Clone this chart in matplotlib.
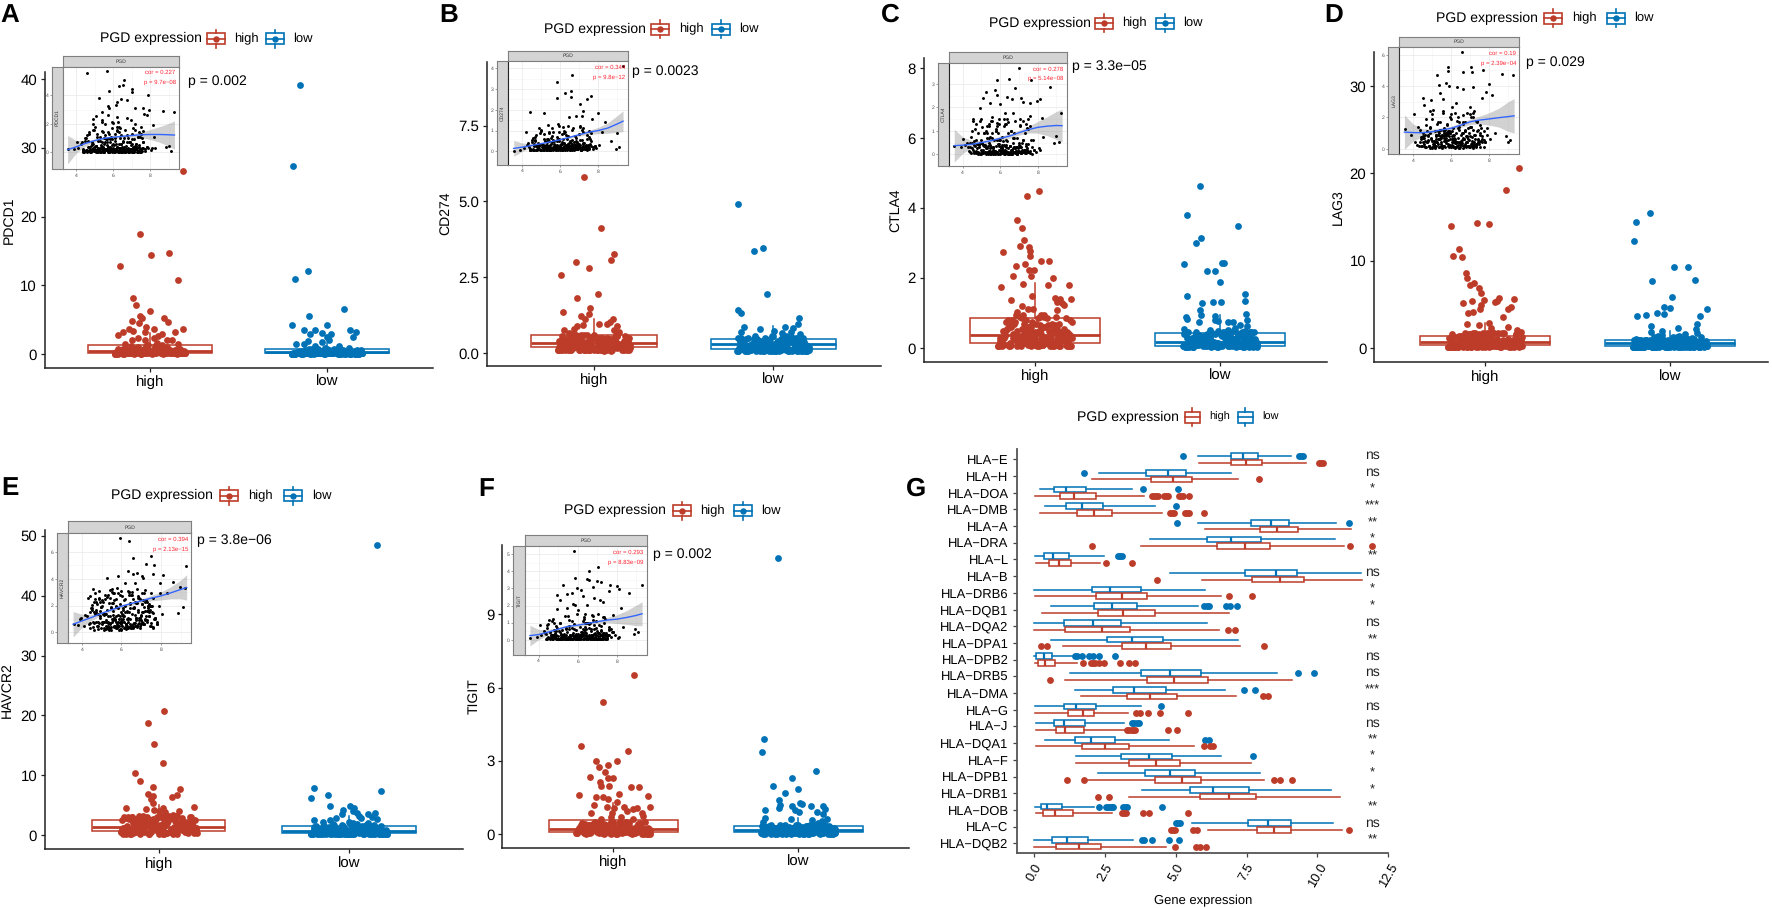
import matplotlib
matplotlib.use("Agg")
import matplotlib.pyplot as plt
from matplotlib.patches import Rectangle
from matplotlib.lines import Line2D

plt.rcParams['font.family'] = ['Liberation Sans', 'DejaVu Sans']
plt.rcParams['text.hinting'] = 'no_hinting'
plt.rcParams['text.hinting_factor'] = 1
W, H = 1772, 908
RED, BLUE = '#BC3C29', '#0072B5'

# ---------- shared jitter offsets for the dense lower band of each group
band_dx = [-.198,-.12,-.03,.06,.15,.196,-.17,-.08,.01,.09,.18,-.19,-.14,-.05,.03,.12,.17,-.16,-.1,-.01,.07,.14,.19,-.18,-.11,-.04,.04,.11,.16,-.15,-.07,.02,.08,.13,-.13,-.06,0,.05,.1,-.09,-.02,.135,-.185,.185,-.125,.165,-.075,.025,-.035,.075,-.145,.115,-.175,.055,-.095,.035,-.015,.095,.155,-.055,-.195,.195,-.115,.045,.125,-.065,.015,.085,.175,-.025,-.135,.105]
band_dx2 = [-.2,-.165,-.13,-.09,-.06,-.02,.02,.05,.09,.13,.16,.2,-.18,-.145,-.105,-.07,-.04,0,.035,.07,.11,.145,.18,-.19,-.155,-.12,-.085,-.045,-.01,.03,.065,.1,.14,.175,-.175,-.14,-.1,-.065,-.03,.01,.045,.08,.12,.155,.19,-.195,-.16,-.125,-.08,-.05,-.015,.025,.06,.095,.13,.17,.198,-.185,-.15,-.11,-.075,-.035,.005,.04,.085,.125,.165,-.17,-.135,-.095,-.055,-.025]

# ---------- panel A
a_high_dx = [.186,-.055,.11,.006,-.17,.16,-.094,-.08,0,-.055,-.043,.077,.1,-.1,-.064,.186,-.02,.02,-.12,-.154,-.094,-.18,.14,-.03,.07,.047,-.07,-.1,-.03,.02,.094,.126,-.14,.16,.04]
a_high_y = [26.6,17.4,14.75,14.4,12.8,10.8,8.2,7.2,6.2,5.5,5.2,5.3,4.6,4.85,4.5,3.7,3.9,3.6,3.7,3.2,3.35,2.7,3.2,3.25,2.9,2.6,2.4,2.0,2.0,2.3,2.0,2.1,1.4,1.45,1.55]
a_high_band = [.05,.3,.6,.1,.4,.1,.2,.9,.15,.5,.08,.3,.7,.05,1.1,.25,.12,.4,.1,1.3,.35,.6,.2,.05,.8,.2,.6,.1,.3,.1,1.0,.4,.15,.5,.2,.7,.1,.9,.3,.05,1.2,.15,.1,.35,.45,.2,.6,.1,.8,.05,.25,.55,.15,1.0,.4,.7,.12,.3,.05,.2,.1,.08,.5,.9,.2,.3,.6,.1,.4,.75,.15,.35]
a_low_dx = [-.154,-.192,-.107,-.183,.098,-.1,-.196,0,-.13,-.07,.13,.166,-.096,-.03,.023,.145,-.105,.013,0,-.03]
a_low_y = [39.2,27.4,12.1,10.9,6.6,5.5,4.2,4.15,3.45,3.5,3.5,3.25,2.95,3.0,2.85,2.5,1.95,2.0,2.5,1.8]
a_low_band = [.05,.1,.3,.05,.2,.1,.08,.4,.6,.1,.05,.15,.05,.3,.1,.5,.08,.1,.2,.9,.05,.25,.1,.05,.4,.1,.7,.2,.05,.2,1.2,.08,.3,.05,1.4,.15,.7,.1,.3,.12,.5,.05,.1,.2,.6,.05,.08,.35,.1,.8,.05,.2,.1,.4,.06,.6,.15,.05,.3,.1,.05,.1,.2,.45,.1,.9,.1,.25,.05,.3,.08,.15]

# ---------- panel B
b_high_dx = [-.056,.04,.11,.097,-.1,-.028,-.184,.02,-.095,-.022,-.173,-.03,-.07,-.048,.104,.09,.03,.07,-.097,-.063,.126,-.11,-.17,.11,.14,-.14]
b_high_y = [5.8,4.13,3.28,3.06,3.0,2.81,2.58,1.95,1.8,1.5,1.34,1.3,1.23,1.11,1.12,1.03,.97,.96,.9,.92,.9,.78,.77,.76,.7,.65]
b_high_band = [.1,.4,.1,.3,.2,.5,.2,.1,.45,.15,.3,.15,.55,.1,.35,.6,.2,.1,.3,.15,.5,.25,.4,.1,.2,.6,.1,.35,.15,.25,.45,.1,.3,.55,.4,.15,.6,.2,.35,.5,.1,.25,.3,.1,.2,.4,.15,.5,.3,.1,.45,.2,.35,.05,.55,.12,.25,.4,.3,.6,.2,.1,.15,.5,.35,.25,.1,.45,.2,.3,.1,.4]
b_low_dx = [-.197,-.058,-.108,-.033,-.195,-.182,.145,.136,-.165,.063,-.072,.11,.1,-.178,.006,.046,.15]
b_low_y = [4.9,3.46,3.37,1.94,1.41,1.31,1.17,.96,.87,.85,.79,.84,.7,.69,.74,.65,.63]
b_low_band = [.05,.3,.1,.45,.2,.1,.35,.15,.05,.4,.25,.1,.5,.08,.3,.12,.2,.05,.35,.55,.1,.25,.05,.15,.45,.3,.1,.5,.2,.05,.35,.1,.4,.15,.25,.05,.55,.3,.1,.2,.45,.08,.35,.05,.15,.5,.25,.1,.4,.2,.05,.3,.12,.55,.08,.35,.2,.45,.1,.25,.05,.15,.3,.1,.5,.2,.08,.4,.1,.3,.15,.05]

# ---------- panel C
c_high_dx = [.02,-.043,-.097,-.07,-.058,-.08,-.032,-.025,-.173,-.027,.032,.077,-.056,-.1,-.03,-.005,-.119,-.022,.097,-.065,.072,.186,-.186,-.014,.11,-.128,.135,.196,.12,.146,.157,-.068,-.036,-.012,.117,-.095]
c_high_y = [4.48,4.35,3.65,3.42,3.09,2.92,2.88,2.76,2.73,2.64,2.5,2.5,2.41,2.35,2.23,2.23,2.06,2.07,2.01,1.83,1.8,1.8,1.73,1.5,1.44,1.38,1.39,1.39,1.31,1.3,1.22,1.2,1.12,1.12,1.09,1.04]
c_high_band = [.05,.3,.6,.15,.4,.05,.5,.9,.05,.7,.2,.3,.05,.8,.25,.55,.1,.45,.95,.15,.65,.35,.05,.2,.75,.4,.1,.6,.3,.55,.85,.05,.2,.45,.1,.7,.3,.95,.5,.15,.6,.05,.25,.4,.8,.1,.35,.65,.2,.5,.1,.9,.3,.6,.05,.4,.75,.15,.55,.25,.05,.35,.7,.1,.45,.2,.85,.3,.05,.5,.15,.6]
c_low_dx = [-.108,-.18,.097,-.103,-.133,-.198,.01,.02,-.07,-.03,0,.135,-.18,.135,-.097,-.04,.002,-.11,.14,-.03,-.106,-.187,-.178,.144,-.117,-.03,-.01,.043,.07,.144,.106,.077,-.195,.043,-.056]
c_low_y = [4.63,3.81,3.5,3.14,2.99,2.41,2.44,2.42,2.21,2.21,1.9,1.55,1.48,1.34,1.3,1.31,1.31,1.09,.97,.92,.94,.88,.84,.8,.75,.8,.78,.73,.75,.64,.66,.56,.53,.51,.51]
c_low_band = [.05,.2,.4,.1,.3,.02,.15,.35,.05,.25,.45,.08,.3,.02,.2,.4,.1,.05,.25,.48,.15,.35,.05,.02,.3,.1,.2,.42,.08,.25,.05,.38,.15,.02,.45,.2,.1,.3,.05,.35,.15,.48,.02,.25,.08,.4,.12,.3,.05,.2,.02,.45,.1,.35,.05,.25,.15,.4,.02,.3,.08,.18,.38,.05,.28,.1,.45,.02,.22,.12,.35,.06]

# ---------- panel D
d_high_dx = [.186,.112,-.043,.02,-.184,-.14,-.173,-.126,-.104,-.095,-.058,-.08,-.03,-.023,.077,.155,-.004,.067,.056,-.068,-.119,-.02,.14,.126,-.027,-.065,-.09,.097,-.1,-.03,.02,.124,.03,.04,.175,.196,-.178]
d_high_y = [20.6,18.1,14.3,14.2,14.0,11.4,10.6,10.4,8.6,8.05,7.45,7.2,6.9,6.3,5.7,5.6,5.5,5.4,5.3,5.45,5.2,4.9,4.7,4.47,4.5,4.1,4.05,3.55,2.75,2.67,2.86,2.48,2.3,1.9,2.06,1.83,1.6]
d_high_band = [.2,.6,1.4,.3,.9,1.0,.15,.8,1.7,.4,.5,.25,1.2,.2,1.5,.7,1.1,.3,.9,1.8,.25,.6,.4,.2,1.3,.15,1.6,.5,.7,.3,1.1,1.75,.2,.8,.35,1.4,.15,1.7,.6,.9,.25,.5,.4,.2,.3,1.2,.1,.8,1.6,.45,.2,.7,.3,1.0,.15,1.5,1.3,.55,.25,1.7,.2,.4,.9,.6,.3,1.1,1.65,.2,.75,1.3,.4,.5]
d_low_dx = [-.108,-.182,-.196,.023,.097,.135,-.1,.013,-.03,.198,.002,-.068,-.13,-.178,-.034,.162,.144,-.104,.045,.139,-.045,-.103,.08,.144,-.045]
d_low_y = [15.46,14.47,12.3,9.27,9.27,7.86,7.67,5.84,4.73,4.5,4.66,4.08,3.82,3.66,3.9,3.74,2.82,2.6,2.33,2.18,1.98,1.83,1.68,1.8,1.53]
d_low_band = [.2,.5,1.0,.15,.7,.3,.9,.2,.4,1.1,.6,.25,.15,.8,.3,1.2,.4,.2,.7,1.0,.15,.5,.3,.1,.9,.25,1.3,.6,.2,.35,1.1,.15,.7,.4,.95,.2,.5,1.4,.25,.8,.15,.6,.3,.1,.45,1.0,.2,.75,.35,1.2,.15,.55,.25,.9,.1,.65,.3,1.1,.2,.4,.12,.85,.25,.5,.15,.7,1.3,.3,.6,.18,.95,.4]

# ---------- panel E
e_high_dx = [.03,-.054,-.026,.02,-.126,-.096,-.028,.112,-.054,-.03,.096,.072,-.042,-.03,.187,-.173,-.068,-.023,.02,.107,0,.033,.074,.168,-.103,.124,-.194,-.17]
e_high_y = [20.7,18.7,15.3,12.05,10.4,9.0,8.05,7.8,6.83,6.5,6.8,6.33,6.05,5.4,4.67,4.6,4.4,4.28,4.5,4.05,4.0,3.95,3.45,3.1,3.2,2.95,2.6,2.83]
e_high_band = [.5,1.5,2.8,.8,2.0,1.2,.2,2.4,3.2,1.0,1.6,.4,3.0,.3,2.2,1.4,.9,.6,2.6,3.1,1.1,1.8,.7,1.3,2.7,.5,3.2,2.0,1.0,.3,2.9,1.5,.6,2.3,1.2,3.1,.2,2.6,1.7,.8,2.1,1.4,.9,.4,2.5,1.1,3.0,.7,1.9,.3,2.8,1.3,.5,3.2,1.6,2.2,.9,.25,1.0,2.7,.6,1.2,1.8,.4,2.4,1.5,3.1,.8,2.0,1.1,.35,1.7]
e_low_dx = [.146,-.182,.166,-.108,-.198,-.1,.003,.025,-.03,.023,.042,.137,.1,.05,-.035,.12,-.068,.063,.145,-.184,-.1,-.137,0]
e_low_y = [48.4,7.9,7.45,6.67,6.2,4.95,4.83,4.55,4.28,4.0,3.67,3.7,3.5,3.2,3.55,3.1,2.9,2.83,2.67,2.55,2.55,2.17,2.3]
e_low_band = [.3,.9,1.5,.5,1.1,.7,.2,1.3,.6,1.7,.4,.25,1.0,.15,1.4,.8,.5,.3,1.2,.9,1.6,.4,.2,.6,1.0,.3,1.9,.7,.15,1.1,.5,2.0,1.3,.35,1.5,.8,.2,.6,1.2,.3,.9,.25,1.4,.45,.7,.15,1.1,.55,1.7,.3,.85,.2,1.3,.4,.65,1.6,.25,1.0,.5,.75,.2,.95,.35,1.2,.6,.15,1.45,.8,.3,1.05,.5,.25]

# ---------- panel F
f_high_dx = [.11,-.056,-.175,.077,.02,-.095,-.08,-.03,-.045,-.128,-.027,-.004,-.07,-.065,-.023,.097,.139,.032,-.184,-.095,-.056,.186,-.027,.02,-.103,-.036,.196,.056,.004,.104,.126,.072,.153,-.119,-.009,.04,.162,-.014,-.065,.108,.144]
f_high_y = [6.52,5.4,3.6,3.41,3.01,2.97,2.74,2.81,2.54,2.35,2.29,2.29,2.13,1.96,1.96,1.91,1.91,1.65,1.6,1.51,1.51,1.54,1.45,1.31,1.2,1.09,1.09,1.1,1.05,1.04,1.05,.93,.86,.87,.87,.71,.72,.71,.6,.63,.46]
f_high_band = [.05,.2,.35,.1,.3,.05,.12,.4,.05,.25,.08,.15,.3,.02,.45,.1,.2,.05,.35,.5,.1,.25,.02,.15,.4,.08,.3,.05,.2,.12,.45,.02,.28,.1,.38,.05,.48,.18,.08,.3,.05,.42,.15,.02,.25,.1,.35,.05,.2,.4,.12,.05,.3,.08,.18,.5,.02,.25,.1,.35,.05,.22,.15,.42,.08,.3,.02,.45,.12,.28,.05,.18]
f_low_dx = [-.11,-.184,-.198,.095,-.036,-.135,0,-.072,-.103,.01,.018,-.1,-.034,.067,.133,-.106,.142,-.182,-.018,.005,.1,.135,-.04,-.182,.074,.157,.13,-.19,.108]
f_low_y = [11.3,3.89,3.37,2.58,2.28,1.95,1.84,1.7,1.39,1.28,1.21,1.19,1.16,1.15,1.13,1.06,1.04,1.0,.98,.91,.89,.82,.6,.67,.59,.6,.55,.48,.44]
f_low_band = [.05,.15,.25,.02,.2,.08,.3,.05,.12,.35,.02,.2,.1,.28,.05,.15,.02,.32,.08,.22,.05,.38,.12,.02,.25,.1,.18,.05,.3,.02,.35,.15,.08,.25,.05,.2,.38,.02,.12,.3,.08,.05,.22,.15,.02,.32,.1,.25,.05,.18,.35,.02,.12,.28,.06,.2,.03,.3,.1,.15,.05,.25,.02,.33,.08,.18,.04,.28,.12,.05,.22,.1]

# box summaries: low whisker, q1, median, q3, high whisker
a_high_box = [0.02,.19,.4,1.26,3.0];  a_low_box = [0.02,.1,.35,.73,1.6]
b_high_box = [.03,.19,.32,.6,1.11];   b_low_box = [.02,.14,.29,.45,.9]
c_high_box = [.01,.13,.37,.85,1.85];  c_low_box = [.01,.07,.17,.42,.95]
d_high_box = [.05,.38,.7,1.45,2.86];  d_low_box = [.05,.3,.6,1.0,2.0]
e_high_box = [.1,.72,1.44,2.5,5.1];   e_low_box = [.05,.44,.78,1.6,3.3]
f_high_box = [.01,.08,.2,.56,1.26];   f_low_box = [.01,.07,.16,.31,.65]

# ---------- scatter insets (PGD on x)
inset_band_x = [3.9,4.1,4.25,4.4,4.5,4.55,4.62,4.7,4.72,4.8,4.85,4.9,4.95,5.0,5.02,5.08,5.12,5.15,5.2,5.22,5.28,5.3,5.35,5.38,5.42,5.45,5.5,5.52,5.55,5.6,5.62,5.65,5.7,5.72,5.75,5.8,5.82,5.85,5.9,5.92,5.95,6.0,6.02,6.05,6.1,6.12,6.15,6.2,6.22,6.25,6.3,6.32,6.35,6.4,6.42,6.45,6.5,6.52,6.55,6.6,6.62,6.65,6.7,6.72,6.75,6.8,6.82,6.85,6.9,6.92,6.95,7.0,7.02,7.05,7.1,7.12,7.15,7.2,7.25,7.3,7.35,7.4,7.45,7.5,7.55,7.6,7.7,7.8,7.9,8.05]
inset_band_x2 = [5.5,6.3,4.9,7.1,5.8,6.6,4.7,6.0,7.4,5.3,6.9,5.6,4.4,6.2,7.0,5.1,6.5,5.9,7.3,4.8,6.1,5.4,6.8,7.6,5.7,4.6,6.4,5.2,7.2,6.7,5.0,5.85,6.95,4.95,6.25,7.5,5.55,6.55,4.75,6.05,7.05,5.35,6.85,5.65,4.45,6.35,7.25,5.15,6.45,5.95,7.35,4.85,6.15,5.45,6.75,7.7,5.75,4.65,6.38,5.25,7.15,6.65,5.05,5.82,6.92,4.55,6.22,7.45,5.58,6.58,4.78,6.08,7.02,5.32,6.82,5.62,4.35,6.32,7.22,5.12,6.42,5.92,7.32,4.88,6.18,5.42,6.72,7.8,5.72,6.02]
inset_band_x3 = [6.1,5.2,7.0,4.6,6.6,5.6,7.3,5.0,6.3,5.8,4.3,6.9,5.4,7.5,6.0,4.8,6.5,5.3,7.2,5.9,4.5,6.7,5.5,6.2,7.4,5.1,6.4,5.7,4.9,6.8,7.1,5.95,6.28,5.48,7.08,4.68,6.68,5.68,7.38,5.08,6.38,5.88,4.38,6.98,5.48,7.58,6.08,4.88,6.58,5.38,7.28,5.98,4.58,6.78,5.58,6.28,7.48,5.18,6.48,5.78,4.98,6.88,7.18,6.03,6.33,5.53,7.13,4.73,6.73,5.73,7.43,5.13,6.43,5.83,4.43,7.03,5.43,7.63,6.13,4.83,6.63,5.33,7.33,5.93,4.63,6.83,5.63,6.23,7.53,5.23]
a_in_band = [.2,.3,.6,.05,1.0,.15,.4,.1,1.4,.05,.7,.25,.1,1.8,.2,.45,.05,1.1,.3,.1,.8,.2,.05,1.5,.35,.1,.6,.05,2.0,.25,.15,.9,.1,.4,.05,1.3,.2,.7,.1,.05,1.7,.3,.15,.5,.05,1.0,.2,.1,.35,2.1,.05,.6,.15,.25,1.2,.1,.05,.8,.3,.15,1.6,.05,.45,.2,.1,1.0,.3,.05,.7,.15,.25,1.3,.05,.4,.1,.9,.2,.3,.6,.15,.05,.5,1.1,.25,.1,.7,.2,.4,.3,.15]
b_in_band = [.05,.15,.3,.05,.55,.1,.25,.05,.8,.15,.4,.1,.05,1.0,.2,.3,.05,.6,.1,.2,.45,.05,.15,.9,.25,.05,.35,.1,1.1,.15,.05,.5,.2,.3,.08,.7,.1,.25,.05,.15,1.2,.2,.1,.35,.05,.6,.15,.25,.4,.95,.1,.3,.05,.2,.75,.1,.25,.5,.15,.05,1.05,.2,.35,.1,.25,.65,.15,.3,.45,.1,.2,.85,.15,.3,.1,.55,.2,.25,.4,.15,.3,.6,.2,.1,.35,.5,.2,.25,.15,.3]
c_in_band = [.3,.4,.5,.1,1.0,.2,.05,.6,1.3,.1,.3,.02,.5,1.5,.15,.05,.35,.9,.1,.02,.25,.7,.05,1.2,.15,.4,.02,.1,1.4,.25,.05,.6,.15,.02,.35,1.1,.1,.05,.45,.2,1.5,.02,.3,.1,.75,.05,.2,.4,.02,1.3,.15,.05,.55,.25,.9,.02,.1,.35,.05,1.0,.2,.02,.5,.1,.3,1.4,.05,.15,.7,.02,.25,.4,.1,1.2,.05,.3,.15,.6,.1,.9,.05,.35,.2,.45,.1,.15,.3,.2,.1,.25]
d_in_band = [.9,.4,1.4,.2,1.0,.7,.1,1.9,.4,.9,.2,1.3,.6,.1,2.2,.5,.3,1.1,.15,.8,.4,1.7,.1,.6,1.2,.3,.05,.9,2.4,.2,.5,1.0,.1,.7,.35,1.5,.15,.55,1.1,.25,2.0,.1,.45,.8,.2,1.3,.6,.05,.35,1.0,1.8,.15,.7,.4,1.2,.1,.5,.9,.25,1.6,.05,.65,.3,1.1,.15,.8,2.3,.4,.2,1.0,.55,.1,1.4,.3,.75,.15,1.2,.45,.9,.2,1.7,.6,.3,1.0,.5,.8,1.1,.4,.9,.6]
e_in_band = [1.0,.5,1.2,.7,1.8,.4,2.3,.8,1.5,.5,2.6,1.1,.3,2.0,.6,1.4,.35,2.8,.9,.25,1.7,.7,2.2,.4,1.2,.2,3.0,.8,1.6,.5,2.4,1.0,.3,1.9,.6,2.9,1.3,.45,2.1,.75,1.5,.2,2.7,.9,1.8,.35,1.2,2.5,.6,.25,1.6,3.1,.8,.4,2.2,1.0,.5,1.4,2.8,.3,1.9,.7,2.3,.45,1.1,3.2,.6,1.7,.9,2.5,.5,1.3,2.1,.8,1.5,2.9,.6,1.0,2.4,.75,1.8,1.2,2.0,.7,1.5,2.6,1.1,.6,2.0,1.4]
f_in_band = [.15,.3,.5,.05,.9,.1,.3,.02,1.2,.15,.4,.05,.7,.2,.02,1.0,.1,.35,.05,.55,.15,.02,1.4,.25,.05,.45,.1,.02,.8,.3,.05,.2,1.1,.02,.4,.1,.6,.05,.25,.02,1.5,.15,.35,.05,.1,.75,.02,.3,.2,.05,1.3,.1,.45,.02,.25,.6,.05,.15,.95,.3,.02,.1,.5,.2,.05,1.15,.35,.02,.15,.7,.25,.05,.4,.1,.85,.2,.05,.55,.3,.15,1.0,.1,.4,.2,.3,.65,.15,.45,.25,.1]

a_in_x = [4.58,5.65,6.59,6.55,6.34,7.0,7.0,5.8,7.85,5.24,6.43,6.19,6.77,6.16,5.74,7.18,7.6,7.94,8.66,9.25,5.42,5.78,7.67,7.81,5.1,5.74,6.22,6.73,6.95,4.9,5.38,6.01,6.34,8.14,4.94,5.47,5.74,6.19,4.58,4.07,8.98,8.84,9.1,3.59,8.21,7.63,8.08,8.26]
a_in_y = [5.56,5.68,5.05,4.74,4.63,4.44,4.25,4.32,4.02,3.81,3.71,3.53,3.64,3.32,3.25,3.08,3.13,2.99,2.92,2.8,2.85,3.08,2.66,2.62,2.52,2.62,2.5,2.38,2.27,2.31,2.27,2.03,1.75,1.94,1.57,1.45,1.4,1.57,1.21,.7,.47,.4,.12,.2,1.1,.75,.28,.33]
b_in_x = [9.28,6.61,5.84,6.25,6.58,5.82,6.58,7.61,7.4,7.04,4.4,5.16,7.2,7.98,6.82,7.14,6.47,7.68,8.35,4.19,9.0,8.67,9.1,8.91,5.9,5.37,6.16,6.68,7.04,7.21,5.63,4.93,4.67,8.18,7.82,3.56]
b_in_y = [4.12,3.67,3.36,2.83,2.91,2.59,2.6,2.67,2.51,2.28,1.91,1.83,1.96,1.86,1.7,1.7,1.64,1.54,1.43,.93,.87,.51,.23,.11,1.32,1.27,1.19,1.11,1.19,.95,.95,.87,.55,.95,.23,.02]
c_in_x = [7.02,5.81,6.45,7.62,8.64,6.79,5.24,5.74,5.81,5.1,6.34,6.61,7.1,8.12,7.94,5.46,4.92,5.99,7.23,7.59,4.57,5.55,6.26,6.7,7.59,8.21,9.26,5.01,5.81,6.43,7.06,7.41,8.3,9.0,8.88,9.13,8.12,3.54,4.04,4.48,7.77,7.23]
c_in_y = [3.68,3.16,3.2,3.17,2.86,2.83,2.65,2.75,2.53,2.39,2.43,2.35,2.39,2.35,2.28,2.18,1.99,2.15,2.25,2.2,1.49,1.61,1.75,1.75,1.65,1.54,1.78,1.18,1.32,1.39,1.25,1.11,.75,.78,.5,.54,.18,.37,.64,.47,.61,.61]
d_in_x = [6.57,5.82,5.85,5.26,7.02,6.63,7.07,7.65,8.64,9.25,5.71,5.9,5.38,6.29,6.63,7.16,7.98,5.41,4.54,4.92,4.57,5.59,6.25,7.6,8.12,7.82,6.98,5.06,6.02,4.05,5.59,6.63,7.16,8.9,9.11,8.96,3.58,8.29,7.73,4.19,7.86]
d_in_y = [6.15,5.23,4.96,4.68,5.23,4.91,4.91,5.02,4.77,4.68,4.17,4.0,4.06,3.91,3.79,3.91,4.11,3.53,3.21,3.11,2.81,3.17,2.94,3.26,3.43,3.6,2.64,2.47,2.64,2.19,2.26,2.15,2.04,.81,.55,.43,1.26,.98,.55,.23,1.3]
e_in_x = [5.92,6.36,6.56,7.47,7.25,7.66,9.26,6.33,6.56,6.78,5.82,5.25,7.02,7.61,8.11,7.1,6.18,6.68,7.95,8.62,8.96,5.42,5.75,6.51,7.19,7.95,8.28,9.21,9.09,8.87,7.81,7.69,7.61,3.6,3.81,3.93,4.13,4.49,4.66,4.91,5.25,5.59]
e_in_y = [7.02,6.82,5.56,5.68,5.11,5.01,4.96,4.57,4.32,4.44,4.22,4.02,4.22,4.34,4.27,4.02,3.72,3.65,3.72,3.77,3.35,3.15,3.28,3.03,3.15,2.95,2.95,3.28,1.86,1.46,.74,1.04,1.46,.62,.55,1.04,1.29,2.03,2.46,2.28,2.66,2.9]
f_in_x = [5.83,7.03,6.56,5.86,6.48,6.58,7.01,7.2,5.26,9.28,7.66,8.0,6.8,6.17,7.61,8.14,8.65,4.92,5.44,5.73,5.95,6.29,6.84,5.09,5.78,5.86,6.46,7.15,7.28,4.92,5.44,6.03,8.2,6.72,7.83,4.07,4.67,8.94,9.11,8.89,8.14,8.31,3.56,7.32,7.74]
f_in_y = [5.2,4.25,4.0,3.61,3.57,3.51,3.41,3.35,3.22,3.18,3.22,3.12,3.08,2.92,2.88,2.96,2.73,2.63,2.67,2.76,3.02,2.53,2.43,2.33,2.1,2.04,2.04,2.33,2.18,1.78,1.84,1.75,1.84,1.45,1.45,.86,1.12,.63,.43,.33,.16,.76,.12,.18,.47]

fit_x = [3.55,4,4.5,5,5.5,6,6.5,7,7.5,8,8.5,9,9.3]
a_fit = [.18,.38,.62,.82,.98,1.06,1.12,1.18,1.23,1.25,1.25,1.23,1.21]
a_ci = [1.0,.45,.2,.1,.09,.08,.09,.12,.2,.35,.55,.8,1.0]
b_fit = [.14,.2,.28,.37,.46,.56,.68,.8,.92,1.0,1.12,1.32,1.45]
b_ci = [.38,.2,.1,.06,.05,.05,.06,.07,.1,.15,.25,.4,.5]
c_fit = [.37,.39,.43,.5,.58,.68,.78,.92,1.05,1.15,1.2,1.23,1.22]
c_ci = [.7,.35,.15,.1,.09,.09,.09,.1,.14,.25,.4,.6,.7]
d_fit = [1.06,1.03,1.02,1.08,1.2,1.3,1.5,1.72,1.83,1.9,1.98,2.05,2.1]
d_ci = [1.1,.55,.25,.16,.14,.14,.15,.17,.25,.4,.6,.95,1.1]
e_fit = [.6,.85,1.12,1.42,1.68,1.95,2.15,2.35,2.55,2.72,2.95,3.2,3.35]
e_ci = [.95,.5,.22,.14,.12,.12,.12,.15,.2,.3,.45,.7,.95]
f_fit = [.24,.3,.45,.62,.78,.85,.95,1.05,1.15,1.2,1.3,1.42,1.52]
f_ci = [.6,.3,.15,.1,.09,.09,.09,.1,.15,.25,.4,.6,.7]

# ---------- panel G
hla_genes = ['HLA−E','HLA−H','HLA−DOA','HLA−DMB','HLA−A','HLA−DRA','HLA−L','HLA−B','HLA−DRB6','HLA−DQB1','HLA−DQA2','HLA−DPA1','HLA−DPB2','HLA−DRB5','HLA−DMA','HLA−G','HLA−J','HLA−DQA1','HLA−F','HLA−DPB1','HLA−DRB1','HLA−DOB','HLA−C','HLA−DQB2']
hla_sig = ['ns','ns','*','***','**','*','**','ns','*','*','ns','**','ns','ns','***','ns','ns','**','*','*','*','**','ns','**']
hla_low = [[5.8,6.94,7.39,7.92,9.06],[2.29,3.94,4.72,5.35,6.94],[.22,.69,1.12,1.85,3.45],[.4,1.14,1.68,2.42,4.28],[5.8,7.65,8.36,8.99,10.67],[4.08,6.09,6.96,8.0,10.61],[.05,.34,.66,1.24,2.47],[4.8,7.45,8.53,9.28,11.55],[0,2.04,2.69,3.79,6.04],[.6,2.11,2.75,3.62,5.79],[0,1.05,2.07,3.08,6.11],[.61,2.59,3.46,4.54,7.18],[.01,.08,.34,.62,1.35],[1.27,3.79,4.81,5.88,8.58],[1.46,2.8,3.53,4.64,6.73],[.02,1.07,1.47,2.18,3.76],[.08,.69,1.06,1.8,3.18],[.38,1.44,2.01,2.85,4.78],[1.48,3.08,4.06,4.86,6.6],[2.26,3.93,4.8,5.68,7.99],[3.81,5.52,6.32,7.6,10.47],[.05,.25,.47,1.0,2.11],[5.56,7.54,8.25,9.05,10.56],[0,.65,1.15,1.89,3.49]]
hla_high = [[5.81,6.96,7.48,8.04,9.59],[2.06,4.12,4.89,5.59,7.18],[.05,.93,1.4,2.19,3.88],[.2,1.51,2.12,2.76,4.51],[6.04,7.98,8.59,9.33,11.18],[3.78,6.47,7.45,8.34,10.93],[.06,.54,.88,1.29,2.33],[5.91,7.69,8.67,9.52,11.58],[.02,2.18,3.09,4.0,6.6],[.29,2.25,3.13,4.26,6.89],[0,1.08,2.39,3.38,6.53],[1.04,3.09,3.94,4.82,7.26],[.02,.13,.39,.74,1.51],[1.11,3.98,4.95,6.13,9.12],[1.65,3.27,4.11,5.05,7.12],[.05,1.19,1.74,2.11,3.31],[.07,.76,1.11,1.76,3.16],[.08,1.68,2.51,3.36,5.64],[1.48,3.34,4.32,5.16,7.65],[1.92,4.26,5.21,5.88,8.11],[3.35,5.84,6.89,7.82,10.78],[.06,.32,.74,1.39,2.75],[6.13,7.86,8.48,9.05,10.87],[0,.76,1.59,2.38,4.65]]
hla_low_out = [[5.27,9.35,9.42,9.48],[1.78],[3.86,5.08],[5.0],[5.06,11.13],[],[2.96,3.04,3.11],[],[],[5.99,6.09,6.19,6.76,6.91,7.15],[],[],[1.45,1.53,1.68,1.94,2.09,2.28,2.85],[9.33,9.87],[7.42,7.81],[4.49],[3.45,3.53,3.62,3.71],[6.02,6.19],[7.71],[],[],[2.29,2.54,2.61,2.68,2.75,2.8,3.14,3.21,3.28,4.53],[5.0,5.07,5.15],[3.81,3.89,4.16,4.75,5.12]]
hla_high_out = [[10.04,10.12,10.19],[7.93],[4.16,4.24,4.31,4.36,4.58,4.65,4.72,5.13,5.2,5.25,5.48],[4.81,4.87,4.93,5.31,5.39,5.47,6.0],[],[2.04,11.16,11.94],[2.54,3.47],[4.33],[6.89,7.69],[],[6.85,7.08],[.25,.47,8.13],[1.72,2.0,2.07,2.14,2.31,2.47,3.05,3.36,3.56],[.58],[8.07,8.25],[3.6,3.75,4.01,4.44,5.44],[3.27,3.35,3.44,3.51,3.58,4.71,5.05],[6.01,6.22,6.33],[],[1.18,1.78,8.45,8.67,9.12],[2.26,2.66],[3.12,3.18,3.24,3.86,4.04,5.42],[4.84,4.91,4.98,5.6,5.76,11.13],[4.99,5.7,5.86,6.08]]

# ---------- layout (pixels)
main_layout = {
 'A': dict(l=44.5,r=432.7,t=72,b=367.7,c=(150,327),y=(354,0,285.3,10),ticks=[0,10,20,30,40],fmt='{:d}',gene='PDCD1',gx=9,gy=220,
           leg=(100,38.7,207,234,266,293),pval='p = 0.002',px=188,py=81,letter='A',lx=0,ly=15,
           ins=dict(sl=51.7,l=62.7,r=178.7,st=56,t=66.7,b=169,x=(76,4,150.3,8),y=(152.3,0,95.3,4),yt=[0,2,4]),cor='cor = 0.227',pi='p = 9.7e−08',edge='#7f7f7f'),
 'B': dict(l=486.7,r=881,t=62,b=365.7,c=(594,773.3),y=(353,0,125.7,7.5),ticks=[0,2.5,5,7.5],fmt='{:.1f}',gene='CD274',gx=446,gy=213,
           leg=(544,29,651,678.7,712,739),pval='p = 0.0023',px=632,py=71,letter='B',lx=439,ly=15,
           ins=dict(sl=497.3,l=508.3,r=628.3,st=50.7,t=61.3,b=164.7,x=(522.3,4,598.3,8),y=(151.3,0,68.3,4),yt=[0,1,2,3,4]),cor='cor = 0.344',pi='p = 9.8e−12',edge='#222222'),
 'C': dict(l=923.7,r=1326.7,t=57.7,b=361.7,c=(1035,1220.3),y=(348,0,68,8),ticks=[0,2,4,6,8],fmt='{:d}',gene='CTLA4',gx=896,gy=210,
           leg=(989,23,1095,1122,1156,1183),pval='p = 3.3e−05',px=1071.7,py=66.7,letter='C',lx=881,ly=15,
           ins=dict(sl=938.3,l=949.3,r=1066.7,st=52.3,t=63,b=166.3,x=(962.7,4,1037.7,8),y=(154.3,0,84,3),yt=[0,1,2,3]),cor='cor = 0.278',pi='p = 5.14e−08',edge='#222222'),
 'D': dict(l=1374,r=1768,t=52,b=362.3,c=(1485,1670),y=(348.3,0,86,30),ticks=[0,10,20,30],fmt='{:d}',gene='LAG3',gx=1337.7,gy=207,
           leg=(1436,18,1544,1572,1607,1634),pval='p = 0.029',px=1525.7,py=62,letter='D',lx=1324,ly=15,
           ins=dict(sl=1388.3,l=1399.3,r=1519,st=36.7,t=47.3,b=154,x=(1413,4,1489.3,8),y=(148.7,0,54.7,6),yt=[0,2,4,6]),cor='cor = 0.19',pi='p = 2.39e−04',edge='#333333'),
 'E': dict(l=44.7,r=463,t=530,b=849,c=(158.7,349),y=(835.3,0,535.7,50),ticks=[0,10,20,30,40,50],fmt='{:d}',gene='HAVCR2',gx=6.7,gy=690,
           leg=(110.7,495.7,220,248,284,312),pval='p = 3.8e−06',px=196.7,py=540,letter='E',lx=1,ly=488,
           ins=dict(sl=56.7,l=68.3,r=191.3,st=521.3,t=533.3,b=643.3,x=(82,4,161,8),y=(632.3,0,552,6),yt=[0,2,4,6]),cor='cor = 0.394',pi='p = 2.13e−15',edge='#7f7f7f'),
 'F': dict(l=502.3,r=909,t=544.7,b=847.7,c=(613.3,798.3),y=(834,0,614.3,9),ticks=[0,3,6,9],fmt='{:d}',gene='TIGIT',gx=474.3,gy=696,
           leg=(564,510.7,673,700,734,761),pval='p = 0.002',px=652.7,py=554.3,letter='F',lx=478,ly=489,
           ins=dict(sl=513.3,l=525,r=646.7,st=535,t=546.3,b=654.7,x=(538.7,4,616.7,8),y=(639.7,0,554.3,5),yt=[0,1,2,3,4,5]),cor='cor = 0.293',pi='p = 8.83e−09',edge='#7f7f7f'),
}
panel_data = {
 'A': (a_high_dx,a_high_y,a_high_band,a_low_dx,a_low_y,a_low_band,a_high_box,a_low_box,a_in_band,a_in_x,a_in_y,a_fit,a_ci),
 'B': (b_high_dx,b_high_y,b_high_band,b_low_dx,b_low_y,b_low_band,b_high_box,b_low_box,b_in_band,b_in_x,b_in_y,b_fit,b_ci),
 'C': (c_high_dx,c_high_y,c_high_band,c_low_dx,c_low_y,c_low_band,c_high_box,c_low_box,c_in_band,c_in_x,c_in_y,c_fit,c_ci),
 'D': (d_high_dx,d_high_y,d_high_band,d_low_dx,d_low_y,d_low_band,d_high_box,d_low_box,d_in_band,d_in_x,d_in_y,d_fit,d_ci),
 'E': (e_high_dx,e_high_y,e_high_band,e_low_dx,e_low_y,e_low_band,e_high_box,e_low_box,e_in_band,e_in_x,e_in_y,e_fit,e_ci),
 'F': (f_high_dx,f_high_y,f_high_band,f_low_dx,f_low_y,f_low_band,f_high_box,f_low_box,f_in_band,f_in_x,f_in_y,f_fit,f_ci),
}

fig = plt.figure(figsize=(W/100, H/100), dpi=100, facecolor='white')

def px_axes(l, r, t, b, **kw):
    return fig.add_axes([l/W, 1-b/H, (r-l)/W, (b-t)/H], **kw)

def lims(a, b, anchor):
    p0, v0, p1, v1 = anchor
    k = (v1-v0)/(p1-p0)
    return v0+(a-p0)*k, v0+(b-p0)*k

def paired(xs, ys):
    n = min(len(xs), len(ys))
    return xs[:n], ys[:n]

ov = fig.add_axes([0, 0, 1, 1], zorder=50)
ov.set_xlim(0, W); ov.set_ylim(H, 0); ov.axis('off'); ov.patch.set_alpha(0)

def stat(v, fliers=()):
    return dict(whislo=v[0], q1=v[1], med=v[2], q3=v[3], whishi=v[4], fliers=list(fliers))

def draw_box(ax, stats, pos, width, col, orient, ms=0, mlw=2.0):
    ax.bxp([stats], positions=[pos], widths=width, orientation=orient, manage_ticks=False,
           showcaps=False, showfliers=bool(ms), patch_artist=True,
           boxprops=dict(facecolor='white', edgecolor=col, linewidth=1.1),
           medianprops=dict(color=col, linewidth=mlw, solid_capstyle='butt'),
           whiskerprops=dict(color=col, linewidth=1.1),
           flierprops=dict(marker='o', markerfacecolor=col, markeredgecolor=col, markersize=ms, linestyle='none'),
           zorder=2)

def legend_key(x, y, col, dot=True, w=18, h=11, arm=9):
    ov.add_patch(Rectangle((x, y-h/2), w, h, fc='white', ec=col, lw=1.2))
    ov.add_line(Line2D([x, x+w], [y, y], color=col, lw=1.2))
    ov.add_line(Line2D([x+w/2, x+w/2], [y-arm, y-h/2], color=col, lw=1.2))
    ov.add_line(Line2D([x+w/2, x+w/2], [y+h/2, y+arm], color=col, lw=1.2))
    if dot:
        ov.plot([x+w/2], [y], 'o', color=col, ms=4.6, mew=0)

for key, L in main_layout.items():
    hi_dx, hi_y, hi_b, lo_dx, lo_y, lo_b, hi_box, lo_box, in_b, in_x, in_y, fit, ci = panel_data[key]
    ax = px_axes(L['l'], L['r'], L['t'], L['b'])
    ax.set_xlim(*lims(L['l'], L['r'], (L['c'][0], 1, L['c'][1], 2)))
    ax.set_ylim(*lims(L['b'], L['t'], L['y']))
    draw_box(ax, stat(hi_box), 1, .7, RED, 'vertical')
    draw_box(ax, stat(lo_box), 2, .7, BLUE, 'vertical')
    for base, col, dx, ys, band in ((1, RED, hi_dx, hi_y, hi_b), (2, BLUE, lo_dx, lo_y, lo_b)):
        ax.scatter([base+d for d in dx], ys, s=24, color=col, linewidths=0, zorder=3)
        for offs in (band_dx, band_dx2):
            o, b = paired(offs, band)
            ax.scatter([base+d for d in o], b, s=24, color=col, linewidths=0, zorder=3)
    ax.set_xticks([1, 2]); ax.set_xticklabels(['high', 'low'], fontsize=10.6)
    ax.set_yticks(L['ticks'])
    ax.set_yticklabels([L['fmt'].format(t) for t in L['ticks']], fontsize=10.7)
    ax.tick_params(length=3, width=0.9, color='#222222', pad=2.5)
    for s in ('top', 'right'):
        ax.spines[s].set_visible(False)
    for s in ('left', 'bottom'):
        ax.spines[s].set_linewidth(1.1); ax.spines[s].set_color('#222222')

    # text in pixel space
    ov.text(L['gx'], L['gy'], L['gene'], rotation=90, ha='center', va='center', fontsize=10.2)
    ov.text(L['lx'], L['ly'], L['letter'], fontsize=19, fontweight='bold', ha='left', va='center')
    ov.text(L['px'], L['py'], L['pval'], fontsize=10, ha='left', va='center')
    tx, ty, k1, t1, k2, t2 = L['leg']
    ov.text(tx, ty, 'PGD expression', fontsize=10, ha='left', va='center')
    legend_key(k1, ty, RED); ov.text(t1, ty, 'high', fontsize=9, ha='left', va='center')
    legend_key(k2, ty, BLUE); ov.text(t2, ty, 'low', fontsize=9, ha='left', va='center')

    # inset
    I = L['ins']
    ia = px_axes(I['l'], I['r'], I['t'], I['b'], zorder=10)
    ia.set_xlim(*lims(I['l'], I['r'], I['x']))
    ia.set_ylim(*lims(I['b'], I['t'], I['y']))
    ia.set_xticks([4, 6, 8]); ia.set_xticks([5, 7, 9], minor=True)
    ia.set_yticks(I['yt'])
    ia.set_yticks([(a+b)/2 for a, b in zip(I['yt'][:-1], I['yt'][1:])], minor=True)
    ia.grid(True, which='major', color='#EBEBEB', lw=.6)
    ia.grid(True, which='minor', color='#F4F4F4', lw=.4)
    ia.set_axisbelow(True)
    ia.tick_params(axis='x', which='major', labelsize=3.6, length=1.5, width=.4, color='#555555', labelcolor='#4D4D4D', pad=1.5)
    ia.tick_params(axis='y', which='both', left=False, labelleft=False)
    ia.tick_params(axis='x', which='minor', bottom=False)
    ia.fill_between(fit_x, [f-c for f, c in zip(fit, ci)], [f+c for f, c in zip(fit, ci)], color='#999999', alpha=.45, lw=0, zorder=2)
    for xs in (inset_band_x, inset_band_x2, inset_band_x3):
        bx, by = paired(xs, in_b)
        ia.scatter(bx, by, s=4.5, color='black', linewidths=0, zorder=3)
    ia.scatter(in_x, in_y, s=4.5, color='black', linewidths=0, zorder=3)
    ia.plot(fit_x, fit, color='#3366FF', lw=1.0, zorder=4)
    for s in ia.spines.values():
        s.set_color('#7f7f7f'); s.set_linewidth(.8)
    ia.spines['left'].set_color(L['edge'])

    sl = px_axes(I['sl'], I['l'], I['t'], I['b'], zorder=9, facecolor='#D4D4D4')
    sl.set_xticks([]); sl.set_ylim(ia.get_ylim()); sl.set_yticks(I['yt'])
    sl.set_yticklabels([str(t) for t in I['yt']])
    sl.tick_params(axis='y', labelsize=3.6, length=1.5, width=.4, color='#555555', labelcolor='#4D4D4D', pad=1)
    for s in sl.spines.values():
        s.set_color('#7f7f7f'); s.set_linewidth(.8)
    st = px_axes(I['l'], I['r'], I['st'], I['t'], zorder=9, facecolor='#D4D4D4')
    st.set_xticks([]); st.set_yticks([])
    for s in st.spines.values():
        s.set_color('#7f7f7f'); s.set_linewidth(.8)
    ov.text((I['l']+I['r'])/2, (I['st']+I['t'])/2, 'PGD', fontsize=3.9, color='#333333', ha='center', va='center')
    ov.text((I['sl']+I['l'])/2, (I['t']+I['b'])/2, L['gene'], fontsize=3.9, color='#333333', rotation=90, ha='center', va='center')
    ov.text(I['r']-3, I['t']+6, L['cor'], fontsize=4.4, color='#FF2030', ha='right', va='center')
    ov.text(I['r']-3, I['t']+15.5, L['pi'], fontsize=4.4, color='#FF2030', ha='right', va='center')

# ---------- panel G
gx = px_axes(1017, 1388.3, 449.3, 853.3)
gx.set_xlim(-0.6, 12.5)
gx.set_ylim(0.4, 24.6)
n = len(hla_genes)
for i, gene in enumerate(hla_genes):
    pos = n-i
    draw_box(gx, stat(hla_low[i], hla_low_out[i]), pos+.2, .34, BLUE, 'horizontal', ms=3.9, mlw=1.6)
    draw_box(gx, stat(hla_high[i], hla_high_out[i]), pos-.2, .34, RED, 'horizontal', ms=3.9, mlw=1.6)
    gx.text(11.94, pos, hla_sig[i], fontsize=10 if hla_sig[i] == 'ns' else 9, ha='center', va='baseline', color='#222222')
gx.set_yticks([n-i for i in range(n)]); gx.set_yticklabels(hla_genes, fontsize=9.4)
gx.set_xticks([0, 2.5, 5, 7.5, 10, 12.5])
gx.set_xticklabels(['0.0', '2.5', '5.0', '7.5', '10.0', '12.5'], fontsize=9.6, rotation=60, ha='center', va='top')
gx.tick_params(axis='both', length=3, width=.9, color='#444444', pad=3)
gx.patch.set_alpha(0)
for s in ('top', 'right'):
    gx.spines[s].set_visible(False)
for s in ('left', 'bottom'):
    gx.spines[s].set_linewidth(1.3); gx.spines[s].set_color('#555555')

ov.text(1203, 901, 'Gene expression', fontsize=9.5, ha='center', va='center')
ov.text(906, 489, 'G', fontsize=19, fontweight='bold', ha='left', va='center')
ov.text(1077, 417, 'PGD expression', fontsize=10, ha='left', va='center')
legend_key(1185, 417, RED, dot=False, w=15, h=11)
ov.text(1209, 417, 'high', fontsize=8.2, ha='left', va='center')
legend_key(1238, 417, BLUE, dot=False, w=15, h=11)
ov.text(1262, 417, 'low', fontsize=8.2, ha='left', va='center')

fig.savefig('out.png', dpi=100)
